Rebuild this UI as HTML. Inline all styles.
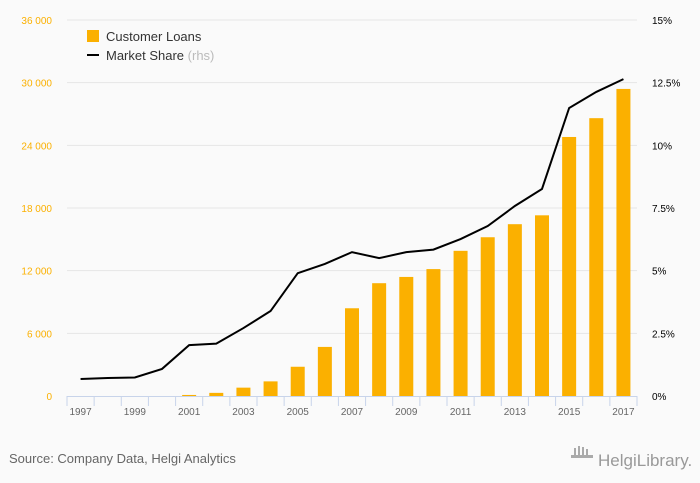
<!DOCTYPE html>
<html><head><meta charset="utf-8"><style>
body{margin:0;background:#fafafa;font-family:"Liberation Sans",sans-serif}
svg{display:block}
</style></head><body>
<svg width="700" height="483" viewBox="0 0 700 483">
<rect width="700" height="483" fill="#fafafa"/>
<g id="grid"></g><g id="bars"></g><g id="line"></g><g id="axes"></g>
<g>
<rect x="87" y="30" width="12" height="12" fill="#fbb000"/>
<text x="106" y="41" font-size="13" fill="#333">Customer Loans</text>
<line x1="87" y1="55" x2="99" y2="55" stroke="#000" stroke-width="2"/>
<text x="106" y="60" font-size="13" fill="#333">Market Share <tspan fill="#bbb">(rhs)</tspan></text>
</g>
<text x="9" y="463" font-size="13" fill="#666">Source: Company Data, Helgi Analytics</text>
<text x="598" y="466" font-size="17" fill="#999">HelgiLibrary.</text>
<g fill="#aaa"><rect x="571" y="455" width="22" height="3"/><rect x="574" y="448" width="2" height="8"/><rect x="578" y="446" width="2" height="10"/><rect x="582" y="447" width="2" height="9"/><rect x="586" y="449" width="2" height="7"/></g>
</svg>
<script>
const years=[1997,1998,1999,2000,2001,2002,2003,2004,2005,2006,2007,2008,2009,2010,2011,2012,2013,2014,2015,2016,2017];
const loans=[0,0,0,0,100,300,800,1400,2800,4700,8400,10800,11400,12150,13900,15200,16450,17300,24800,26600,29400];
const share=[0.68,0.72,0.74,1.08,2.03,2.09,2.71,3.39,4.9,5.27,5.74,5.5,5.74,5.84,6.26,6.78,7.58,8.26,11.49,12.13,12.64];
const leftTicks=[0,6000,12000,18000,24000,30000,36000];
const leftLabels=["0","6 000","12 000","18 000","24 000","30 000","36 000"];
const rightTicks=[0,2.5,5,7.5,10,12.5,15];
const rightLabels=["0%","2.5%","5%","7.5%","10%","12.5%","15%"];
const NS="http://www.w3.org/2000/svg";
const x0=67,x1=637,yTop=20,yBot=396;
const step=(x1-x0)/years.length;
const xc=i=>x0+step*(i+0.5);
const yL=v=>yBot-(v/36000)*(yBot-yTop);
const yR=v=>yBot-(v/15)*(yBot-yTop);
function mk(tag,attrs,parent){const e=document.createElementNS(NS,tag);for(const k in attrs)e.setAttribute(k,attrs[k]);document.getElementById(parent).appendChild(e);return e;}
leftTicks.forEach((t,i)=>{
 if(t>0){const g=mk('line',{x1:x0,x2:x1,y1:yL(t),y2:yL(t),stroke:'#e6e6e6'},'grid');
 
 }
 const l=mk('text',{x:52,y:yL(t)+4,'text-anchor':'end','font-size':10,fill:'#fbb000'},'axes');l.textContent=leftLabels[i];
 
 
});
rightTicks.forEach((t,i)=>{
 const l=mk('text',{x:652,y:yR(t)+4,'font-size':10,fill:'#000'},'axes');l.textContent=rightLabels[i];
 
 
});
const ax=mk('line',{x1:x0,x2:x1,y1:yBot+0.5,y2:yBot+0.5,stroke:'#c8d4ea'},'axes');


for(let i=0;i<=years.length;i++){
 const t=mk('line',{x1:x0+step*i,x2:x0+step*i,y1:yBot,y2:yBot+10,stroke:'#c8d4ea'},'axes');
 
 
}
years.forEach((yr,i)=>{
 if(i%2==0){const l=mk('text',{x:xc(i),y:yBot+19,'text-anchor':'middle','font-size':10,fill:'#666'},'axes');l.textContent=yr;
 
 }
 const b=mk('rect',{x:xc(i)-7,y:yL(loans[i]),width:14,height:yBot-yL(loans[i]),fill:'#fbb000'},'bars');
 
 
});
const p=mk('polyline',{points:share.map((v,i)=>xc(i)+','+yR(v)).join(' '),fill:'none',stroke:'#000','stroke-width':2},'line');


</script>
</body></html>
